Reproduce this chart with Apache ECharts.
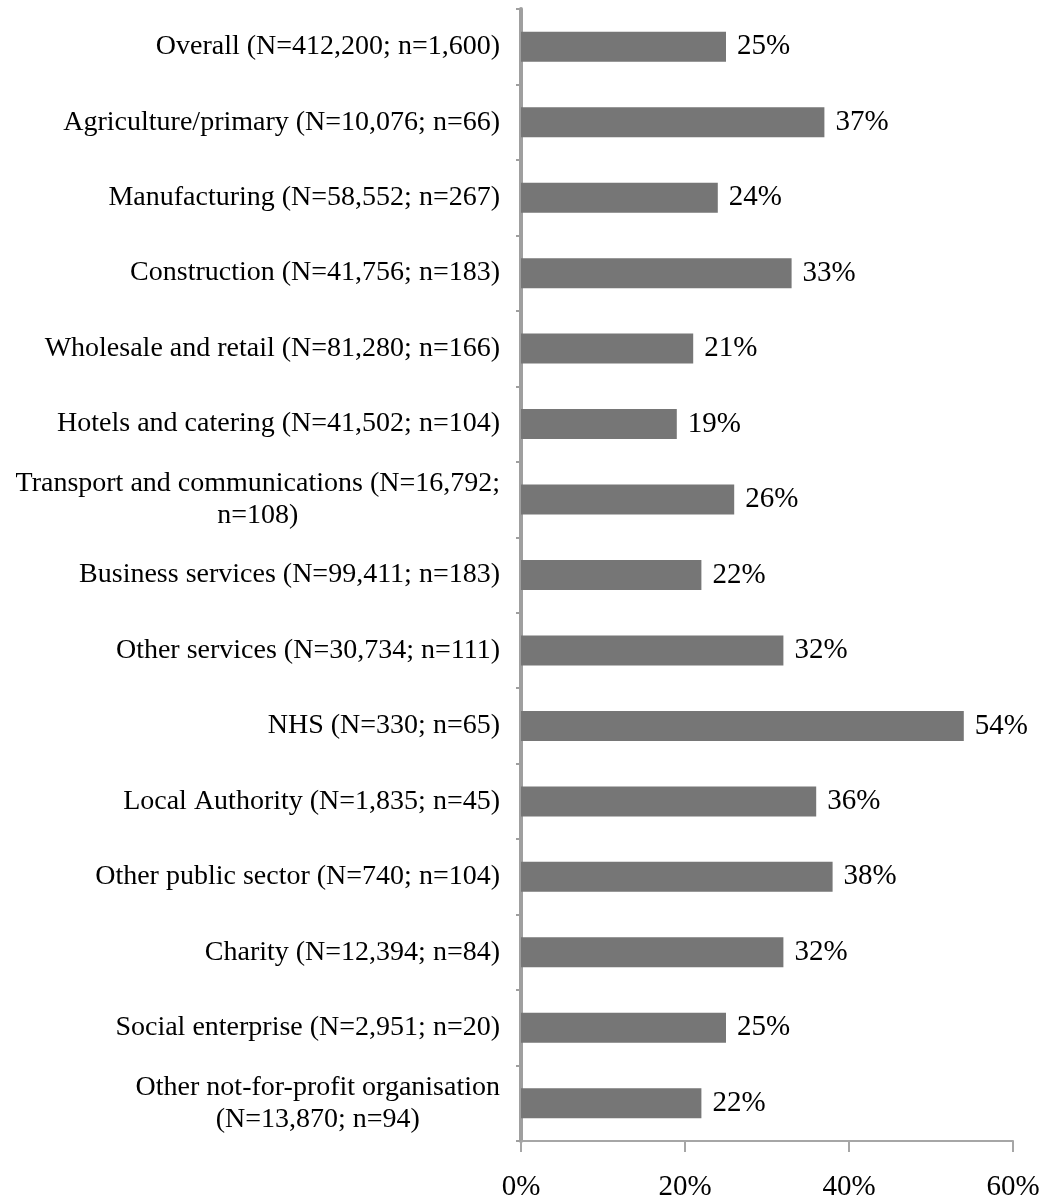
<!DOCTYPE html>
<html>
<head>
<meta charset="utf-8">
<title>Share by sector</title>
<script src="https://cdn.jsdelivr.net/npm/echarts@6/dist/echarts.min.js"></script>
<style>
  html, body { margin: 0; padding: 0; background: #ffffff; }
  #chart { width: 1045px; height: 1202px; }
</style>
</head>
<body>
<div id="chart"></div>
<script>
// Sector labels (with survey base sizes), top to bottom
const categories = [
  'Overall (N=412,200; n=1,600)',
  'Agriculture/primary (N=10,076; n=66)',
  'Manufacturing (N=58,552; n=267)',
  'Construction (N=41,756; n=183)',
  'Wholesale and retail (N=81,280; n=166)',
  'Hotels and catering (N=41,502; n=104)',
  'Transport and communications (N=16,792;\nn=108)',
  'Business services (N=99,411; n=183)',
  'Other services (N=30,734; n=111)',
  'NHS (N=330; n=65)',
  'Local Authority (N=1,835; n=45)',
  'Other public sector (N=740; n=104)',
  'Charity (N=12,394; n=84)',
  'Social enterprise (N=2,951; n=20)',
  'Other not-for-profit organisation\n(N=13,870; n=94)'
];

// Percentage for each sector
const values = [25, 37, 24, 33, 21, 19, 26, 22, 32, 54, 36, 38, 32, 25, 22];

// Value axis ticks
const xTicks = { min: 0, max: 60, interval: 20 };

const FONT = '"Liberation Serif", "Times New Roman", serif';

const chart = echarts.init(document.getElementById('chart'), null, { renderer: 'canvas' });

chart.setOption({
  backgroundColor: '#ffffff',
  animation: false,
  grid: { left: 521, right: 32, top: 9, bottom: 60, containLabel: false },
  xAxis: {
    type: 'value',
    min: xTicks.min,
    max: xTicks.max,
    interval: xTicks.interval,
    axisLine: { show: true, lineStyle: { color: '#a6a6a6', width: 2 } },
    axisTick: { show: true, length: 11, lineStyle: { color: '#a6a6a6', width: 2 } },
    splitLine: { show: false },
    axisLabel: {
      formatter: '{value}%',
      color: '#000000',
      fontFamily: FONT,
      fontSize: 29,
      margin: 32
    }
  },
  yAxis: {
    type: 'category',
    inverse: true,
    data: categories,
    axisLine: { show: true, lineStyle: { color: '#9f9f9f', width: 4 } },
    axisTick: { show: true, alignWithLabel: false, length: 5, lineStyle: { color: '#9f9f9f', width: 2 } },
    splitLine: { show: false },
    axisLabel: {
      color: '#000000',
      fontFamily: FONT,
      fontSize: 28,
      lineHeight: 32,
      margin: 21,
      interval: 0,
      formatter: function (v) {
        if (v.indexOf('\n') < 0) return v;
        // wrapped labels: each line centred within the label block
        return v.split('\n').map(function (s) { return '{c|' + s + '}'; }).join('\n');
      },
      rich: {
        c: { align: 'center', fontFamily: FONT, fontSize: 28, lineHeight: 32, color: '#000000' }
      }
    }
  },
  series: [{
    type: 'bar',
    data: values,
    barWidth: 30,
    itemStyle: { color: '#767676' },
    label: {
      show: true,
      position: 'right',
      distance: 11,
      formatter: '{c}%',
      color: '#000000',
      fontFamily: FONT,
      fontSize: 29
    }
  }]
});
</script>
</body>
</html>
